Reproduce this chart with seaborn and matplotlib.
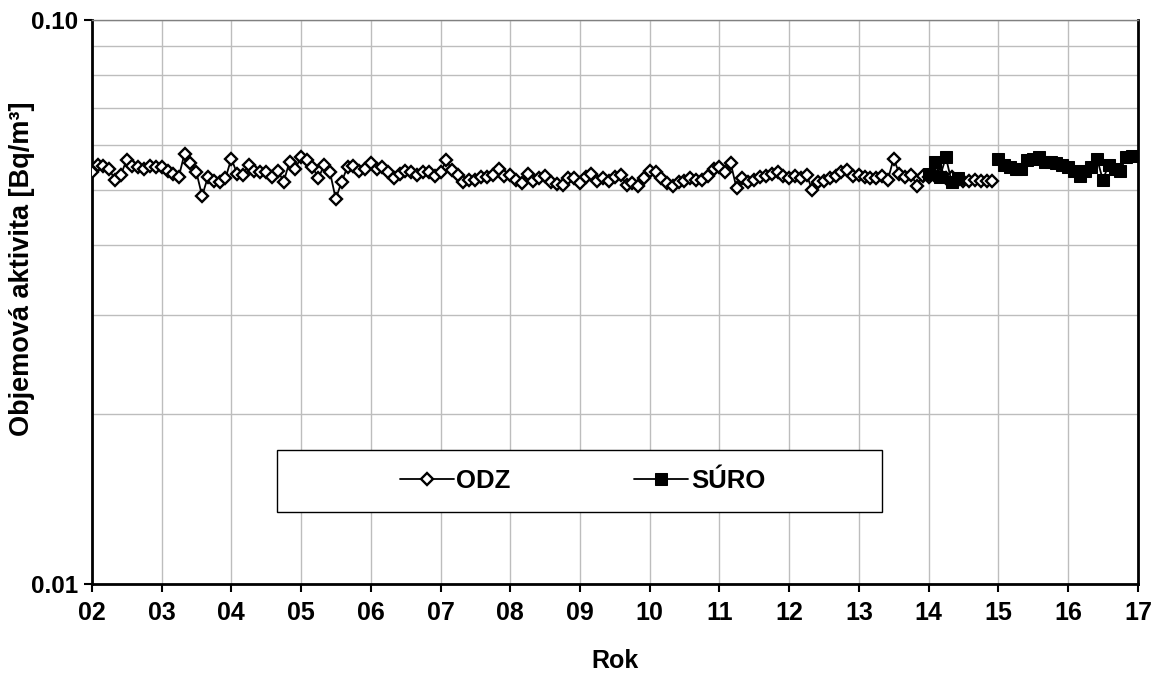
import numpy as np
import pandas as pd
import seaborn as sns
import matplotlib.pyplot as plt
import matplotlib.dates as mdates
from matplotlib.patches import Rectangle
from matplotlib.ticker import FixedLocator, NullFormatter, FuncFormatter

# monthly values, ODZ Jan 2002 - Dec 2014  [Bq/m3]
odz_2002 = [0.0539, 0.0554, 0.0552, 0.0545, 0.0521, 0.0532, 0.0564, 0.0552, 0.0550, 0.0545, 0.0552, 0.0550]
odz_2003 = [0.0550, 0.0541, 0.0534, 0.0528, 0.0580, 0.0557, 0.0539, 0.0488, 0.0528, 0.0519, 0.0517, 0.0524]
odz_2004 = [0.0568, 0.0534, 0.0532, 0.0554, 0.0541, 0.0539, 0.0539, 0.0528, 0.0541, 0.0517, 0.0561, 0.0545]
odz_2005 = [0.0573, 0.0564, 0.0550, 0.0524, 0.0554, 0.0537, 0.0482, 0.0517, 0.0550, 0.0552, 0.0541, 0.0545]
odz_2006 = [0.0557, 0.0545, 0.0550, 0.0537, 0.0526, 0.0534, 0.0541, 0.0537, 0.0532, 0.0539, 0.0537, 0.0530]
odz_2007 = [0.0539, 0.0564, 0.0543, 0.0532, 0.0517, 0.0521, 0.0521, 0.0528, 0.0528, 0.0532, 0.0545, 0.0530]
odz_2008 = [0.0532, 0.0521, 0.0515, 0.0534, 0.0519, 0.0526, 0.0530, 0.0517, 0.0513, 0.0511, 0.0524, 0.0524]
odz_2009 = [0.0515, 0.0528, 0.0534, 0.0519, 0.0526, 0.0519, 0.0528, 0.0532, 0.0511, 0.0515, 0.0509, 0.0524]
odz_2010 = [0.0541, 0.0539, 0.0524, 0.0515, 0.0509, 0.0517, 0.0519, 0.0526, 0.0521, 0.0521, 0.0530, 0.0545]
odz_2011 = [0.0550, 0.0539, 0.0557, 0.0503, 0.0524, 0.0517, 0.0521, 0.0528, 0.0530, 0.0534, 0.0537, 0.0530]
odz_2012 = [0.0526, 0.0530, 0.0524, 0.0532, 0.0500, 0.0517, 0.0519, 0.0526, 0.0530, 0.0537, 0.0543, 0.0530]
odz_2013 = [0.0532, 0.0528, 0.0524, 0.0524, 0.0530, 0.0521, 0.0568, 0.0534, 0.0528, 0.0532, 0.0509, 0.0530]
odz_2014 = [0.0528, 0.0530, 0.0532, 0.0526, 0.0528, 0.0521, 0.0519, 0.0519, 0.0521, 0.0519, 0.0519, 0.0519]

# SURO: Jan-Jun 2014, then Jan 2015 - Dec 2016
suro_2014 = [0.0534, 0.0561, 0.0528, 0.0571, 0.0517, 0.0526]
suro_2015 = [0.0568, 0.0554, 0.0548, 0.0545, 0.0545, 0.0566, 0.0568, 0.0573, 0.0561, 0.0561, 0.0557, 0.0554]
suro_2016 = [0.0550, 0.0541, 0.0530, 0.0541, 0.0550, 0.0568, 0.0521, 0.0554, 0.0545, 0.0541, 0.0573, 0.0575]

odz = (odz_2002 + odz_2003 + odz_2004 + odz_2005 + odz_2006 + odz_2007 + odz_2008
       + odz_2009 + odz_2010 + odz_2011 + odz_2012 + odz_2013 + odz_2014)
df_odz = pd.DataFrame({'datum': pd.date_range('2002-01-01', periods=len(odz), freq='MS'),
                       'aktivita': odz})
df_suro_a = pd.DataFrame({'datum': pd.date_range('2014-01-01', periods=len(suro_2014), freq='MS'),
                          'aktivita': suro_2014})
suro_b = suro_2015 + suro_2016
df_suro_b = pd.DataFrame({'datum': pd.date_range('2015-01-01', periods=len(suro_b), freq='MS'),
                          'aktivita': suro_b})

sns.set_style('white')
plt.rcParams['font.family'] = ['Liberation Sans', 'DejaVu Sans']
plt.rcParams['font.weight'] = 'bold'
for k in ['text.color', 'axes.labelcolor', 'xtick.color', 'ytick.color']:
    plt.rcParams[k] = 'black'
fs = 18

fig = plt.figure(figsize=(11.67, 6.73), dpi=100)
ax = fig.add_axes([0.0788, 0.1322, 0.8963, 0.8378])

sns.lineplot(data=df_odz, x='datum', y='aktivita', ax=ax, color='black', lw=1.3,
             marker='D', markersize=6.5, markerfacecolor='white', markeredgecolor='black',
             markeredgewidth=1.7, label='ODZ', zorder=3)
sns.lineplot(data=df_suro_a, x='datum', y='aktivita', ax=ax, color='black', lw=1.3,
             marker='s', markersize=8, markerfacecolor='black', markeredgecolor='black',
             label='SÚRO', zorder=4)
sns.lineplot(data=df_suro_b, x='datum', y='aktivita', ax=ax, color='black', lw=1.3,
             marker='s', markersize=8, markerfacecolor='black', markeredgecolor='black',
             legend=False, zorder=4)

ax.set_yscale('log')
ax.set_ylim(0.01, 0.1)
ax.set_xlim(pd.Timestamp('2002-01-01'), pd.Timestamp('2017-01-01'))

ax.yaxis.set_major_locator(FixedLocator([0.01, 0.1]))
ax.yaxis.set_major_formatter(FuncFormatter(lambda v, p: '%.2f' % v))
ax.yaxis.set_minor_locator(FixedLocator([0.01 * k for k in range(2, 10)]))
ax.yaxis.set_minor_formatter(NullFormatter())
ax.xaxis.set_major_locator(mdates.YearLocator())
ax.xaxis.set_major_formatter(mdates.DateFormatter('%y'))

ax.grid(True, which='both', color='#bdbdbd', lw=1)
ax.set_axisbelow(True)
ax.tick_params(axis='x', which='major', length=6, width=1.5, direction='out',
               labelsize=fs, pad=6, bottom=True)
ax.tick_params(axis='y', which='major', length=6, width=1.5, direction='out',
               labelsize=fs - 0.5, pad=4, left=True)
ax.tick_params(axis='y', which='minor', length=0)

for s in ['left', 'bottom', 'right']:
    ax.spines[s].set_color('black')
    ax.spines[s].set_linewidth(2)
ax.spines['top'].set_color('#808080')
ax.spines['top'].set_linewidth(1)

ax.set_xlabel('Rok', fontsize=fs, fontweight='bold')
ax.xaxis.set_label_coords(0.5, -0.116)
ax.set_ylabel('Objemová aktivita [Bq/m³]', fontsize=19.5, fontweight='bold')
ax.yaxis.set_label_coords(-0.054, 0.56)

# legend frame drawn as a box, legend itself without frame
ax.add_patch(Rectangle((0.177, 0.1277), 0.578, 0.11, transform=ax.transAxes,
                       facecolor='white', edgecolor='black', lw=1, zorder=5))
leg = ax.legend(loc='center', bbox_to_anchor=(0.469, 0.183), ncol=2, frameon=False,
                handlelength=2.1, handletextpad=0.1, columnspacing=4.8,
                prop={'weight': 'bold', 'size': fs + 0.5})
leg.set_zorder(6)

fig.savefig('out.png', dpi=100)
